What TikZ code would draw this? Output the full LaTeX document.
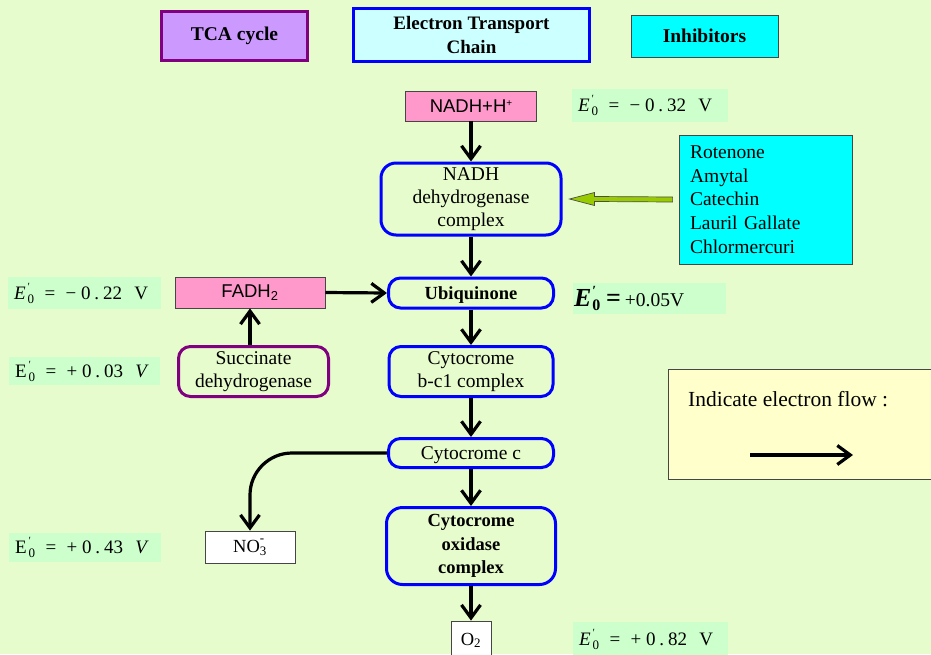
\documentclass[tikz,border=0pt]{standalone}
\usepackage{fontspec}
\setmainfont{Liberation Serif}
\newfontfamily\arialf{Liberation Sans}
\usetikzlibrary{arrows.meta,calc}
\definecolor{bgc}{RGB}{230,252,204}
\definecolor{egreen}{RGB}{204,255,204}
\definecolor{lav}{RGB}{204,153,255}
\definecolor{purp}{RGB}{128,0,128}
\definecolor{lcyan}{RGB}{204,255,255}
\definecolor{fcyan}{RGB}{0,255,255}
\definecolor{pinkc}{RGB}{255,153,204}
\definecolor{lyel}{RGB}{255,255,204}
\definecolor{olivec}{RGB}{153,204,0}
\definecolor{bordc}{RGB}{70,70,70}
\newcommand{\EO}[2]{#1\kern2pt\rlap{\raisebox{1.05ex}{\fontsize{11}{11}\selectfont ′}}\raisebox{-0.45ex}{\fontsize{13}{13}\selectfont #2}}
\newcommand{\Elab}[4]{\mbox{\EO{#1}{0}\kern0.55em=\kern0.55em#2\kern0.25em0\kern0.2em.\kern0.2em#3\kern0.65em#4}}
\begin{document}
\begin{tikzpicture}[x=1pt,y=-1pt,
  every node/.style={inner sep=0pt, font=\fontsize{19.5}{23}\selectfont},
  bluebox/.style={draw=blue, line width=3pt, rounded corners=12pt, align=center},
  purpbox/.style={draw=purp, line width=3pt, rounded corners=12pt, align=center},
  plainbox/.style={draw=bordc, line width=0.8pt},
  ebox/.style={fill=egreen, align=left, inner xsep=6pt, font=\fontsize{19}{22}\selectfont},
  flow/.style={line width=3.2pt, -{Straight Barb[length=13pt,width=19pt,line width=3.2pt]}}
]
\useasboundingbox (0,0) rectangle (931,654);
\fill[bgc] (0,0) rectangle (931,654);

% titles
\node[fill=lav, draw=purp, line width=3pt, minimum width=146pt, minimum height=49pt, font=\fontsize{19.5}{23}\bfseries] (tca) at (234.5,36) {TCA cycle};
\node[fill=lcyan, draw=blue, line width=3pt, minimum width=236pt, minimum height=53pt, align=center, font=\fontsize{19}{24}\bfseries] (etc) at (471.5,35) {Electron Transport\\Chain};
\node[fill=fcyan, plainbox, minimum width=147pt, minimum height=42pt, font=\fontsize{19.5}{23}\bfseries] (inh) at (704.5,36) {Inhibitors};

% main chain
\node[fill=pinkc, plainbox, minimum width=131pt, minimum height=30pt, font=\arialf\fontsize{18.5}{22}\selectfont] (nadh) at (471,106) {NADH+H\raisebox{0.55ex}{\fontsize{10}{10}\selectfont +}};
\node[bluebox, rounded corners=15pt, minimum width=180pt, minimum height=72pt] (ndh) at (471,199) {NADH\\dehydrogenase\\complex};
\node[bluebox, minimum width=165pt, minimum height=30pt, text height=13pt, text depth=0pt, font=\fontsize{18.5}{23}\bfseries] (ubi) at (471,293) {Ubiquinone};
\node[bluebox, minimum width=164pt, minimum height=50pt] (bc1) at (471,371.5) {Cytocrome\\b-c1 complex};
\node[bluebox, minimum width=165pt, minimum height=29pt, text height=13pt, text depth=0pt] (cytc) at (471,453) {Cytocrome c};
\node[bluebox, rounded corners=16pt, minimum width=169pt, minimum height=77pt, font=\fontsize{18.5}{23.5}\bfseries] (cox) at (471,546) {Cytocrome\\oxidase\\complex};
\node[fill=white, plainbox, minimum width=40pt, minimum height=39pt, font=\fontsize{18.5}{22}\selectfont] (o2) at (471,640.5) {O\textsubscript{2}};

% left side
\node[fill=pinkc, plainbox, minimum width=150pt, minimum height=31pt, font=\arialf\fontsize{18.5}{22}\selectfont] (fadh) at (250,292.5) {FADH\textsubscript{2}};
\node[purpbox, minimum width=150pt, minimum height=50pt] (sdh) at (253.5,371.5) {Succinate\\dehydrogenase};
\node[fill=white, plainbox, minimum width=90pt, minimum height=32pt, font=\fontsize{18.5}{22}\selectfont] (no3) at (250,547) {NO\rlap{\raisebox{1.2ex}{\fontsize{13}{13}\selectfont -}}\textsubscript{3}};

% E labels
\node[ebox, minimum width=156pt, text width=144pt, minimum height=33pt] (e1) at (650,105.5) {\Elab{\textit{E}}{−}{32}{V}};
\node[ebox, minimum width=153pt, text width=141pt, minimum height=32pt] (e2) at (84.5,293) {\Elab{\textit{E}}{−}{22}{V}};
\node[ebox, minimum width=151pt, text width=139pt, minimum height=28pt] (e3) at (84.5,371) {\Elab{E}{+}{03}{\textit{V}}};
\node[ebox, minimum width=152pt, text width=140pt, minimum height=29pt] (e4) at (85,547.5) {\Elab{E}{+}{43}{\textit{V}}};
\node[ebox, minimum width=155pt, text width=143pt, minimum height=34pt] (e5) at (650.5,639) {\Elab{\textit{E}}{+}{82}{V}};
\node[ebox, inner xsep=1pt, minimum width=153pt, text width=151pt, minimum height=31pt, font=\fontsize{19.5}{22}\selectfont] (e05) at (649.5,298.5) {{\fontsize{26}{26}\selectfont\bfseries\itshape E}\kern1pt\rlap{\raisebox{1.25ex}{\fontsize{14}{14}\selectfont\bfseries ′}}\raisebox{-0.5ex}{\fontsize{16}{16}\selectfont\bfseries 0}\hspace{0.3em}{\fontsize{26}{26}\selectfont\bfseries =}\hspace{0.2em}+0.05V};

% inhibitor list
\node[fill=fcyan, plainbox, minimum width=173pt, minimum height=129pt, text width=151pt, inner xsep=11pt, align=left, font=\fontsize{19.5}{23.75}\selectfont] (inhl) at (765.5,199.5) {Rotenone\\Amytal\\Catechin\\Lauril Gallate\\Chlormercuri};

% legend box
\draw[fill=lyel, draw=bordc, line width=0.8pt] (668,369) rectangle (935,479);
\node[anchor=west, font=\fontsize{21.5}{26}\selectfont] (legt) at (688,399) {Indicate electron flow :};
\coordinate (la) at (750,455);
\coordinate (lb) at (853,455);
\draw[flow] (la) -- (lb);

% connectors
\draw[flow] (nadh.south) -- (ndh.north);
\draw[flow] (ndh.south) -- (ubi.north);
\draw[flow] (ubi.south) -- (bc1.north);
\draw[flow] (bc1.south) -- (cytc.north);
\draw[flow] (cytc.south) -- (cox.north);
\draw[flow] (cox.south) -- (o2.north);
\draw[flow] (fadh.east) -- (ubi.west);
\draw[flow] (sdh.north -| fadh.south) -- (fadh.south);
\draw[flow, rounded corners=42pt] (cytc.west) -| (no3.north);

% inhibitor arrow
\path (inhl.west) ++(-6,0) coordinate (gs);
\path (ndh.east) ++(7,0) coordinate (gt);
\filldraw[fill=olivec, draw=black!70, line width=0.7pt]
  ($(gs)+(0,-2.5)$) -- ($(gt)+(25,-2.5)$) -- ($(gt)+(25,-6.5)$) -- (gt)
  -- ($(gt)+(25,6.5)$) -- ($(gt)+(25,2.5)$) -- ($(gs)+(0,2.5)$) -- cycle;
\end{tikzpicture}
\end{document}
